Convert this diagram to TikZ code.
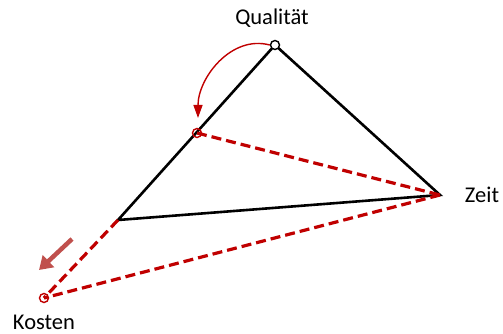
\documentclass[tikz,border=0pt]{standalone}
\usepackage{fontspec}
\setmainfont{Carlito}
\usetikzlibrary{arrows.meta}
\definecolor{dunkelrot}{RGB}{192,0,0}
\definecolor{hellrot}{RGB}{192,80,77}
\begin{document}
\begin{tikzpicture}[x=1pt, y=-1pt, >=Triangle,
    every node/.style={font=\fontsize{22.5}{26}\selectfont},
    kante/.style={line width=2.6pt, black},
    neu/.style={line width=3.2pt, dunkelrot, dash pattern=on 10pt off 5pt},
    punkt/.style={circle, draw, line width=1.4pt, inner sep=0pt, minimum size=9pt}]
    \useasboundingbox (0,0) rectangle (503,334);
    % ==== Eckpunkte ====
    \coordinate (Q) at (275,45);
    \coordinate (Z) at (440,195);
    \coordinate (K) at (118,220);
    \coordinate (Qneu) at (197,133);
    \coordinate (Kneu) at (44,298);
    
    % ==== urspruengliches Dreieck ====
    \draw[kante, line join=miter] (K) -- (Q) -- (Z) -- cycle;
    
    % ==== neues Dreieck ====
    \draw[neu] (Qneu) -- (Z);
    \draw[neu] (Z) -- (Kneu);
    \draw[neu] (K) -- (Kneu);
    
    % Punkte
    \node[punkt, black, fill=white] (q) at (Q) {};
    \node[punkt, dunkelrot] (qn) at (Qneu) {};
    \node[punkt, dunkelrot] (kn) at (Kneu) {};
    
    % Beschriftung
    \node (lq) at (272,18) {Qualität};
    \node (lz) at (482,195) {Zeit};
    \node (lk) at (44,322) {Kosten};
    
    % Pfeile
    \coordinate (bogen) at (198,118);
    \draw[dunkelrot, line width=1.4pt, -{Triangle[length=13pt, width=9pt]}] (q.west) to[out=165, in=90] (bogen);
    \coordinate (ps) at (72,239);
    \coordinate (pe) at (39,270);
    \draw[hellrot, line width=4.5pt, -{Triangle[length=13pt, width=16pt]}] (ps) -- (pe);
\end{tikzpicture}
\end{document}
